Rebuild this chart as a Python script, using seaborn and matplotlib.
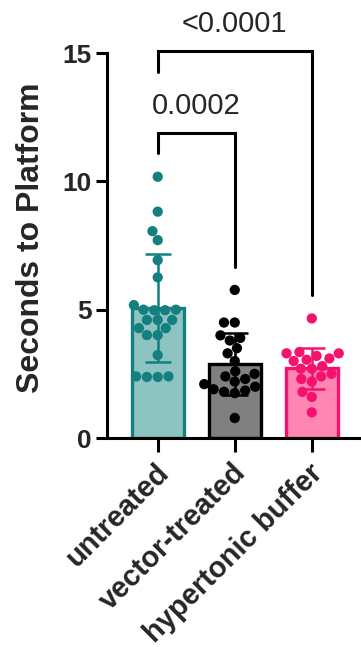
import numpy as np
import pandas as pd
import matplotlib
matplotlib.use("Agg")
import matplotlib.pyplot as plt
import matplotlib.transforms as mtransforms
import seaborn as sns

groups = ["untreated", "vector-treated", "hypertonic buffer"]

untreated = [10.18, 8.82, 8.06, 7.71, 6.93, 6.26, 5.18,
             5.0, 5.0, 4.98, 4.98, 4.6, 4.6, 4.6, 4.28, 4.28,
             4.01, 4.01, 3.23, 2.4, 2.4, 2.38, 2.38]
vector_treated = [5.77, 4.5, 4.5, 4.0, 3.9, 3.8, 3.5, 3.3, 3.0,
                  2.6, 2.5, 2.4, 2.3, 2.2, 2.1, 2.0, 1.9, 1.85,
                  1.8, 1.75, 0.78]
hypertonic = [4.66, 3.35, 3.3, 3.3, 3.2, 3.1, 3.05, 3.0, 2.8, 2.7,
              2.7, 2.5, 2.4, 2.3, 2.2, 1.8, 1.6, 1.0]

fill_colors = ["#8dc4c2", "#808080", "#ff86b2"]
edge_colors = ["#13807f", "#000000", "#f5126e"]
dot_colors = ["#13807f", "#000000", "#f5126e"]

# (left group, right group, bracket top, left leg end, right leg end, label)
comparisons = [
    (0, 1, 11.88, 11.1, 6.66, "0.0002"),
    (0, 2, 15.08, 14.26, 5.57, "<0.0001"),
]

df = pd.DataFrame({
    "group": np.repeat(groups, [len(untreated), len(vector_treated), len(hypertonic)]),
    "seconds": untreated + vector_treated + hypertonic,
})

sns.set_theme(style="ticks")
plt.rcParams["font.family"] = ["Liberation Sans", "DejaVu Sans"]

fig = plt.figure(figsize=(3.61, 6.47), dpi=100)
ax = fig.add_axes([0.296, 0.323, 0.70, 0.595])

sns.barplot(data=df, x="group", y="seconds", hue="group", order=groups,
            hue_order=groups, palette=fill_colors, errorbar=None,
            width=0.67, saturation=1, legend=False, ax=ax, zorder=1)
for patch, ec in zip(ax.patches, edge_colors):
    patch.set_edgecolor(ec)
    patch.set_linewidth(2.4)

# mean ± SD error bars in each group's colour
stats = df.groupby("group", sort=False)["seconds"].agg(["mean", "std"]).reindex(groups)
for i, g in enumerate(groups):
    ax.errorbar(i, stats.loc[g, "mean"], yerr=stats.loc[g, "std"],
                color=edge_colors[i], capsize=9.5, capthick=1.8,
                elinewidth=1.8, zorder=2)

sns.swarmplot(data=df, x="group", y="seconds", hue="group", order=groups,
              hue_order=groups, palette=dot_colors, size=7.4,
              legend=False, ax=ax, zorder=3, warn_thresh=1)

# significance brackets
for a, b, top, la, lb, text in comparisons:
    ax.plot([a, a, b, b], [la, top, top, lb], color="black", lw=2.2,
            clip_on=False, solid_joinstyle="miter", zorder=4)
    ax.text((a + b) / 2, top + 0.5, text, ha="center", va="bottom",
            fontsize=21, clip_on=False)

ax.set_xlim(-0.66, 2.62)
ax.set_ylim(0, 15)
ax.set_yticks([0, 5, 10, 15])
ax.set_xlabel("")
ax.set_ylabel("Seconds to Platform", fontsize=23, fontweight="bold")
ax.yaxis.set_label_coords(-0.24, 0.52)
sns.despine(ax=ax)
for side in ["left", "bottom"]:
    ax.spines[side].set_linewidth(2.2)
    ax.spines[side].set_color("black")
ax.tick_params(axis="both", width=2.2, length=8, color="black")
ax.tick_params(axis="y", labelsize=19, pad=3)
ax.tick_params(axis="x", labelsize=21, length=10, pad=4)
for lab in ax.get_yticklabels():
    lab.set_fontweight("bold")
ax.set_xticks(range(len(groups)))
ax.set_xticklabels(groups, rotation=45, ha="right", va="center",
                   rotation_mode="anchor", fontweight="bold")
shift = mtransforms.ScaledTranslation(0.07, -0.11, fig.dpi_scale_trans)
for lab in ax.get_xticklabels():
    lab.set_transform(lab.get_transform() + shift)

fig.savefig("out.png", dpi=100, facecolor="white")
